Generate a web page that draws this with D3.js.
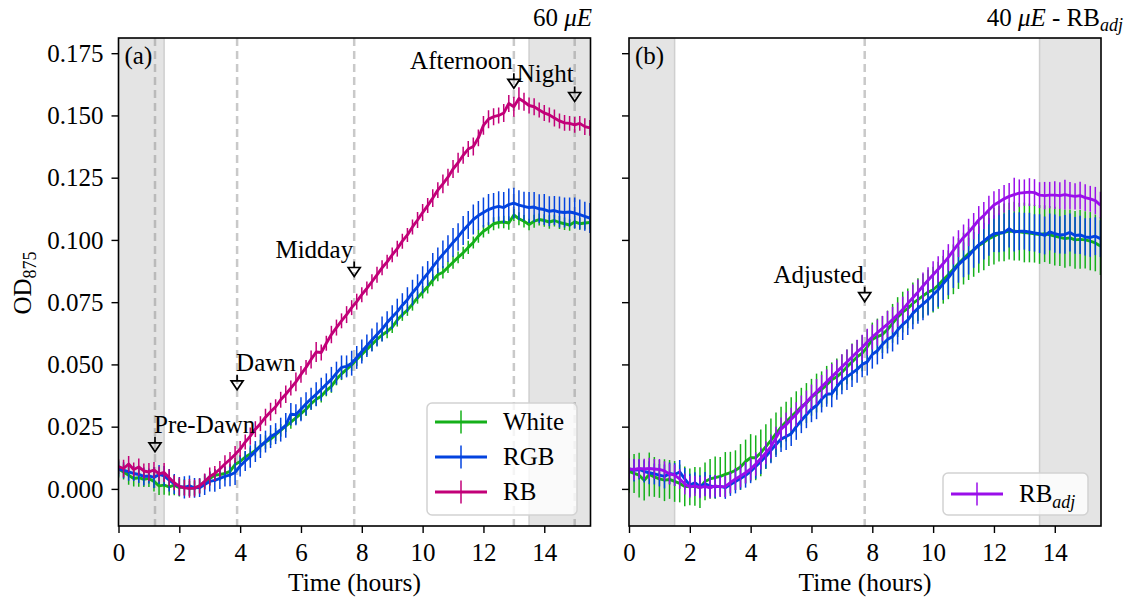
<!DOCTYPE html>
<html>
<head>
<meta charset="utf-8">
<script src="https://cdn.jsdelivr.net/npm/d3@7"></script>
<style>
  body { margin: 0; background: #fff; }
  svg text { font-family: "Liberation Serif", "Times New Roman", serif; fill: #000; }
</style>
</head>
<body>
<div id="chart"></div>
<script>
// sample times, minutes after lights on
const minutes = [0,10,20,30,40,50,60,70,80,90,100,110,120,130,140,150,160,170,180,190,
  200,210,220,230,240,250,260,270,280,290,300,310,320,330,340,350,360,370,380,390,
  400,410,420,430,440,450,460,470,480,490,500,510,520,530,540,550,560,570,580,590,
  600,610,620,630,640,650,660,670,680,690,700,710,720,730,740,750,760,770,780,790,
  800,810,820,830,840,850,860,870,880,890,900,910,920,930];

// panel (a), 60 uE
const whiteA = [0.0080,0.0068,0.0055,0.0042,0.0045,0.0038,0.0042,0.0030,0.0012,0.0015,
  0.0008,0.0015,0.0005,0.0008,0.0002,0.0003,0.0012,0.0028,0.0042,0.0055,
  0.0058,0.0062,0.0070,0.0098,0.0110,0.0128,0.0140,0.0155,0.0172,0.0188,
  0.0200,0.0218,0.0235,0.0252,0.0268,0.0285,0.0302,0.0320,0.0342,0.0360,
  0.0372,0.0395,0.0412,0.0440,0.0462,0.0480,0.0498,0.0520,0.0540,0.0560,
  0.0580,0.0600,0.0618,0.0632,0.0650,0.0678,0.0700,0.0718,0.0742,0.0768,
  0.0790,0.0812,0.0838,0.0860,0.0870,0.0890,0.0910,0.0930,0.0948,0.0970,
  0.0990,0.1015,0.1035,0.1048,0.1065,0.1070,0.1072,0.1068,0.1100,0.1085,
  0.1075,0.1062,0.1075,0.1082,0.1078,0.1072,0.1078,0.1070,0.1065,0.1060,
  0.1072,0.1065,0.1068,0.1070];
const whiteAErr = [0.0035,0.0030,0.0038,0.0032,0.0036,0.0030,0.0034,0.0040,0.0036,0.0038,
  0.0034,0.0040,0.0036,0.0032,0.0030,0.0028,0.0030,0.0026,0.0028,0.0025,
  0.0025,0.0027,0.0024,0.0026,0.0025,0.0023,0.0026,0.0024,0.0025,0.0027,
  0.0024,0.0026,0.0025,0.0023,0.0026,0.0024,0.0025,0.0027,0.0024,0.0026,
  0.0025,0.0023,0.0026,0.0024,0.0025,0.0027,0.0024,0.0026,0.0025,0.0023,
  0.0026,0.0024,0.0025,0.0027,0.0024,0.0026,0.0025,0.0023,0.0026,0.0024,
  0.0025,0.0027,0.0024,0.0026,0.0025,0.0023,0.0026,0.0024,0.0025,0.0027,
  0.0024,0.0026,0.0025,0.0023,0.0026,0.0024,0.0025,0.0027,0.0024,0.0026,
  0.0025,0.0023,0.0026,0.0024,0.0025,0.0027,0.0024,0.0026,0.0025,0.0023,
  0.0026,0.0024,0.0025,0.0027];
const rgbA = [0.0080,0.0075,0.0068,0.0062,0.0058,0.0050,0.0052,0.0046,0.0058,0.0052,
  0.0035,0.0020,0.0010,0.0006,0.0012,0.0004,0.0005,0.0018,0.0030,0.0034,
  0.0042,0.0050,0.0056,0.0066,0.0092,0.0112,0.0130,0.0150,0.0172,0.0190,
  0.0210,0.0222,0.0238,0.0255,0.0300,0.0298,0.0320,0.0342,0.0362,0.0380,
  0.0400,0.0420,0.0440,0.0465,0.0488,0.0492,0.0505,0.0528,0.0552,0.0575,
  0.0598,0.0620,0.0642,0.0668,0.0690,0.0712,0.0738,0.0760,0.0788,0.0812,
  0.0840,0.0865,0.0892,0.0918,0.0942,0.0965,0.0990,0.1012,0.1038,0.1060,
  0.1082,0.1098,0.1110,0.1122,0.1130,0.1135,0.1130,0.1142,0.1148,0.1140,
  0.1135,0.1130,0.1132,0.1125,0.1122,0.1115,0.1118,0.1112,0.1110,0.1112,
  0.1108,0.1102,0.1095,0.1088];
const rgbAErr = [0.0030,0.0032,0.0035,0.0030,0.0034,0.0036,0.0030,0.0042,0.0038,0.0040,
  0.0045,0.0040,0.0038,0.0045,0.0042,0.0040,0.0038,0.0042,0.0040,0.0045,
  0.0042,0.0040,0.0045,0.0050,0.0042,0.0040,0.0045,0.0042,0.0048,0.0044,
  0.0046,0.0042,0.0048,0.0050,0.0045,0.0042,0.0048,0.0046,0.0044,0.0048,
  0.0046,0.0044,0.0050,0.0046,0.0048,0.0044,0.0050,0.0046,0.0048,0.0045,
  0.0046,0.0048,0.0050,0.0046,0.0048,0.0052,0.0048,0.0050,0.0052,0.0050,
  0.0054,0.0050,0.0055,0.0052,0.0056,0.0054,0.0058,0.0055,0.0058,0.0056,
  0.0060,0.0058,0.0060,0.0062,0.0058,0.0060,0.0062,0.0065,0.0062,0.0060,
  0.0058,0.0062,0.0060,0.0058,0.0062,0.0060,0.0058,0.0062,0.0060,0.0058,
  0.0062,0.0060,0.0058,0.0060];
const rbA = [0.0090,0.0082,0.0100,0.0078,0.0088,0.0072,0.0068,0.0076,0.0060,0.0066,
  0.0045,0.0025,0.0010,0.0004,0.0002,0.0003,0.0012,0.0030,0.0050,0.0062,
  0.0080,0.0100,0.0118,0.0138,0.0160,0.0188,0.0212,0.0240,0.0262,0.0288,
  0.0310,0.0330,0.0358,0.0380,0.0405,0.0430,0.0460,0.0488,0.0520,0.0550,
  0.0548,0.0585,0.0620,0.0648,0.0675,0.0700,0.0728,0.0752,0.0780,0.0805,
  0.0832,0.0860,0.0888,0.0912,0.0940,0.0965,0.0995,0.1020,0.1052,0.1080,
  0.1110,0.1138,0.1168,0.1200,0.1225,0.1252,0.1285,0.1310,0.1340,0.1365,
  0.1375,0.1410,0.1460,0.1485,0.1495,0.1500,0.1510,0.1548,0.1535,0.1568,
  0.1555,0.1540,0.1535,0.1522,0.1510,0.1502,0.1490,0.1478,0.1470,0.1468,
  0.1462,0.1468,0.1455,0.1450];
const rbAErr = [0.0030,0.0035,0.0032,0.0028,0.0034,0.0030,0.0036,0.0032,0.0030,0.0038,
  0.0034,0.0030,0.0036,0.0032,0.0038,0.0034,0.0030,0.0032,0.0036,0.0030,
  0.0032,0.0035,0.0030,0.0034,0.0032,0.0030,0.0035,0.0032,0.0030,0.0034,
  0.0036,0.0030,0.0032,0.0035,0.0030,0.0038,0.0034,0.0030,0.0036,0.0040,
  0.0032,0.0030,0.0035,0.0032,0.0030,0.0034,0.0030,0.0032,0.0030,0.0028,
  0.0030,0.0032,0.0030,0.0028,0.0030,0.0032,0.0030,0.0028,0.0030,0.0032,
  0.0034,0.0030,0.0036,0.0032,0.0038,0.0034,0.0036,0.0040,0.0034,0.0032,
  0.0036,0.0034,0.0038,0.0036,0.0034,0.0032,0.0036,0.0034,0.0040,0.0045,
  0.0036,0.0032,0.0034,0.0030,0.0032,0.0030,0.0034,0.0030,0.0032,0.0030,
  0.0032,0.0030,0.0034,0.0032];

// panel (b), 40 uE
const whiteB = [0.0070,0.0062,0.0055,0.0035,0.0058,0.0048,0.0040,0.0035,0.0038,0.0030,
  0.0022,0.0010,0.0008,0.0010,0.0005,0.0030,0.0040,0.0045,0.0050,0.0058,
  0.0065,0.0075,0.0088,0.0110,0.0125,0.0125,0.0145,0.0170,0.0195,0.0222,
  0.0248,0.0270,0.0290,0.0310,0.0330,0.0345,0.0368,0.0385,0.0400,0.0418,
  0.0438,0.0450,0.0468,0.0490,0.0510,0.0530,0.0545,0.0570,0.0600,0.0612,
  0.0620,0.0640,0.0665,0.0690,0.0710,0.0725,0.0745,0.0760,0.0775,0.0790,
  0.0800,0.0818,0.0840,0.0860,0.0882,0.0905,0.0925,0.0945,0.0960,0.0978,
  0.0990,0.1005,0.1015,0.1025,0.1030,0.1035,0.1035,0.1033,0.1030,0.1028,
  0.1025,0.1022,0.1025,0.1020,0.1015,0.1010,0.1005,0.1008,0.1000,0.1002,
  0.1000,0.0995,0.0988,0.0975];
const whiteBErr = [0.0085,0.0078,0.0090,0.0082,0.0088,0.0080,0.0076,0.0084,0.0078,0.0082,
  0.0076,0.0080,0.0074,0.0078,0.0082,0.0076,0.0080,0.0085,0.0078,0.0090,
  0.0084,0.0080,0.0092,0.0088,0.0095,0.0090,0.0094,0.0090,0.0088,0.0085,
  0.0082,0.0080,0.0078,0.0082,0.0076,0.0080,0.0074,0.0078,0.0072,0.0076,
  0.0070,0.0074,0.0072,0.0070,0.0074,0.0068,0.0072,0.0070,0.0068,0.0072,
  0.0074,0.0076,0.0078,0.0080,0.0082,0.0080,0.0084,0.0086,0.0088,0.0090,
  0.0092,0.0094,0.0096,0.0098,0.0100,0.0102,0.0104,0.0106,0.0108,0.0110,
  0.0112,0.0110,0.0114,0.0112,0.0116,0.0114,0.0118,0.0116,0.0120,0.0118,
  0.0116,0.0118,0.0114,0.0116,0.0118,0.0115,0.0117,0.0114,0.0116,0.0118,
  0.0115,0.0117,0.0114,0.0116];
const rgbB = [0.0080,0.0075,0.0078,0.0070,0.0065,0.0060,0.0055,0.0050,0.0062,0.0058,
  0.0068,0.0040,0.0015,0.0025,0.0010,0.0020,0.0012,0.0008,0.0010,0.0005,
  0.0018,0.0030,0.0042,0.0055,0.0070,0.0090,0.0110,0.0130,0.0155,0.0178,
  0.0200,0.0210,0.0222,0.0250,0.0275,0.0298,0.0320,0.0335,0.0360,0.0380,
  0.0382,0.0410,0.0435,0.0450,0.0465,0.0480,0.0500,0.0510,0.0540,0.0555,
  0.0580,0.0600,0.0612,0.0638,0.0660,0.0678,0.0705,0.0725,0.0742,0.0760,
  0.0780,0.0800,0.0825,0.0848,0.0875,0.0900,0.0920,0.0935,0.0960,0.0980,
  0.0995,0.1012,0.1025,0.1028,0.1030,0.1045,0.1032,0.1035,0.1035,0.1032,
  0.1028,0.1025,0.1018,0.1032,0.1025,0.1020,0.1022,0.1030,0.1018,0.1020,
  0.1012,0.1010,0.1015,0.1005];
const rgbBErr = [0.0042,0.0045,0.0040,0.0044,0.0046,0.0042,0.0045,0.0048,0.0044,0.0046,
  0.0048,0.0044,0.0046,0.0042,0.0045,0.0048,0.0044,0.0046,0.0042,0.0045,
  0.0046,0.0048,0.0045,0.0050,0.0047,0.0049,0.0050,0.0048,0.0052,0.0050,
  0.0052,0.0054,0.0050,0.0053,0.0051,0.0054,0.0052,0.0055,0.0053,0.0050,
  0.0054,0.0052,0.0055,0.0053,0.0056,0.0054,0.0052,0.0055,0.0057,0.0055,
  0.0058,0.0056,0.0060,0.0058,0.0062,0.0060,0.0064,0.0062,0.0065,0.0064,
  0.0066,0.0068,0.0066,0.0070,0.0068,0.0072,0.0070,0.0074,0.0072,0.0075,
  0.0074,0.0076,0.0074,0.0078,0.0076,0.0075,0.0078,0.0076,0.0074,0.0077,
  0.0075,0.0078,0.0076,0.0074,0.0077,0.0075,0.0078,0.0076,0.0074,0.0077,
  0.0075,0.0078,0.0076,0.0074];
const rbAdjB = [0.0080,0.0078,0.0082,0.0080,0.0082,0.0080,0.0078,0.0072,0.0060,0.0055,
  0.0040,0.0020,0.0008,0.0012,0.0005,0.0010,0.0004,0.0012,0.0008,0.0010,
  0.0025,0.0040,0.0052,0.0065,0.0080,0.0100,0.0122,0.0145,0.0170,0.0205,
  0.0240,0.0258,0.0280,0.0300,0.0325,0.0348,0.0370,0.0390,0.0410,0.0430,
  0.0450,0.0470,0.0490,0.0510,0.0530,0.0550,0.0568,0.0590,0.0610,0.0628,
  0.0645,0.0662,0.0680,0.0700,0.0720,0.0745,0.0768,0.0790,0.0815,0.0838,
  0.0860,0.0882,0.0905,0.0930,0.0958,0.0985,0.1010,0.1030,0.1055,0.1080,
  0.1098,0.1120,0.1140,0.1152,0.1165,0.1175,0.1182,0.1188,0.1190,0.1192,
  0.1190,0.1180,0.1178,0.1180,0.1180,0.1178,0.1182,0.1178,0.1175,0.1178,
  0.1170,0.1165,0.1158,0.1140];
const rbAdjBErr = [0.0040,0.0042,0.0038,0.0041,0.0043,0.0040,0.0042,0.0039,0.0041,0.0043,
  0.0040,0.0042,0.0044,0.0041,0.0043,0.0040,0.0042,0.0044,0.0041,0.0043,
  0.0042,0.0044,0.0046,0.0043,0.0045,0.0047,0.0044,0.0046,0.0048,0.0045,
  0.0047,0.0049,0.0046,0.0048,0.0050,0.0047,0.0049,0.0051,0.0048,0.0050,
  0.0052,0.0049,0.0051,0.0050,0.0052,0.0049,0.0051,0.0053,0.0050,0.0052,
  0.0050,0.0053,0.0051,0.0049,0.0052,0.0050,0.0053,0.0051,0.0054,0.0052,
  0.0054,0.0052,0.0055,0.0053,0.0056,0.0054,0.0052,0.0055,0.0053,0.0056,
  0.0054,0.0057,0.0055,0.0053,0.0056,0.0054,0.0068,0.0055,0.0053,0.0056,
  0.0054,0.0052,0.0055,0.0053,0.0056,0.0054,0.0060,0.0055,0.0053,0.0056,
  0.0054,0.0052,0.0055,0.0053];

// annotations (time in hours, tip at OD value)
const notesA = ["Pre-Dawn", "Dawn", "Midday", "Afternoon", "Night"];
const notesATime = [1.2, 3.9, 7.75, 13.0, 15.0];
const notesATip = [0.0149, 0.0398, 0.0853, 0.1609, 0.1556];
const notesB = ["Adjusted"];
const notesBTime = [7.75];
const notesBTip = [0.0752];

// dark periods
const darkSpans = [[0, 1.5], [13.5, 16]];

const xTicks = [0, 2, 4, 6, 8, 10, 12, 14];
const yTicks = [0, 0.025, 0.05, 0.075, 0.1, 0.125, 0.15, 0.175];

const hours = minutes.map(m => m / 60);

const width = 1136, height = 601;
const plot_top = 38, plot_bottom = 526;
const panel_w = 472;
const font_size = 25;

const y = d3.scaleLinear().domain([-0.0149, 0.1811]).range([plot_bottom, plot_top]);

const svg = d3.select("#chart").append("svg")
  .attr("width", width).attr("height", height)
  .attr("viewBox", [0, 0, width, height]);

function drawPanel(p) {
  let {id, left, series, notes, noteTimes, noteTips, noteAnchors, dashes, tag, showYLabels, legend} = p;

  let x = d3.scaleLinear().domain([0, 15.52]).range([left, left + panel_w]);

  svg.append("clipPath").attr("id", `clip-${id}`)
    .append("rect").attr("x", left).attr("y", plot_top)
    .attr("width", panel_w).attr("height", plot_bottom - plot_top);

  let g = svg.append("g").attr("clip-path", `url(#clip-${id})`);

  // night shading
  g.selectAll(null).data(darkSpans).join("rect")
    .attr("x", d => x(d[0])).attr("y", plot_top)
    .attr("width", d => x(d[1]) - x(d[0])).attr("height", plot_bottom - plot_top)
    .attr("fill", "#e4e4e4")
    .attr("stroke", "#cfcfcf").attr("stroke-width", 1.5);

  // sampling times
  g.selectAll(null).data(dashes).join("line")
    .attr("x1", d => x(d)).attr("x2", d => x(d))
    .attr("y1", plot_top).attr("y2", plot_bottom)
    .attr("stroke", "#888").attr("stroke-opacity", 0.45)
    .attr("stroke-width", 2.5).attr("stroke-dasharray", "8,5");

  let line = d3.line().x(d => x(d.t)).y(d => y(d.v));

  series.forEach(s => {
    let pts = hours.map((t, i) => ({t, v: s.values[i], e: s.errors[i]}));
    g.append("g").selectAll("line").data(pts).join("line")
      .attr("x1", d => x(d.t)).attr("x2", d => x(d.t))
      .attr("y1", d => y(d.v - d.e)).attr("y2", d => y(d.v + d.e))
      .attr("stroke", s.color).attr("stroke-width", 1.5);
    g.append("path").datum(pts)
      .attr("d", line)
      .attr("fill", "none").attr("stroke", s.color)
      .attr("stroke-width", 2.9).attr("stroke-linejoin", "round");
  });

  // frame
  svg.append("rect")
    .attr("x", left).attr("y", plot_top).attr("width", panel_w).attr("height", plot_bottom - plot_top)
    .attr("fill", "none").attr("stroke", "#000").attr("stroke-width", 1.6);

  // axes
  let xAxis = svg.append("g").attr("transform", `translate(0,${plot_bottom})`)
    .call(d3.axisBottom(x).tickValues(xTicks).tickSize(7).tickFormat(d3.format("d")));
  xAxis.select(".domain").remove();
  xAxis.selectAll(".tick line").attr("stroke", "#000").attr("stroke-width", 1.4);
  xAxis.selectAll(".tick text").attr("y", 35).attr("dy", null)
    .attr("font-size", font_size).attr("font-family", "Liberation Serif");

  let yAxis = svg.append("g").attr("transform", `translate(${left},0)`)
    .call(d3.axisLeft(y).tickValues(yTicks).tickSize(7).tickFormat(showYLabels ? d3.format(".3f") : ""));
  yAxis.select(".domain").remove();
  yAxis.selectAll(".tick line").attr("stroke", "#000").attr("stroke-width", 1.4);
  yAxis.selectAll(".tick text").attr("x", -15).attr("dy", "0.33em")
    .attr("font-size", font_size).attr("font-family", "Liberation Serif");

  svg.append("text")
    .attr("x", left + panel_w / 2).attr("y", 591)
    .attr("text-anchor", "middle").attr("font-size", 25.5)
    .text("Time (hours)");

  // panel tag
  svg.append("text").attr("x", left + 6).attr("y", 64)
    .attr("font-size", font_size).text(tag);

  // annotation arrows
  notes.forEach((name, i) => {
    let ax = x(noteTimes[i]), ay = y(noteTips[i]);
    svg.append("path")
      .attr("d", `M${ax},${ay - 15}V${ay - 9}M${ax - 6},${ay - 9}H${ax + 6}L${ax},${ay}Z`)
      .attr("fill", "none").attr("stroke", "#000").attr("stroke-width", 1.7)
      .attr("stroke-linejoin", "miter");
    let anchor = noteAnchors[i];
    svg.append("text")
      .attr("x", anchor === "start" ? ax - 1 : ax - 1).attr("y", ay - 19)
      .attr("text-anchor", anchor).attr("font-size", font_size)
      .text(name);
  });

  // legend
  let shown = series.filter(s => !s.hidden);
  let lg = svg.append("g").attr("transform", `translate(${legend.x},${legend.y})`);
  lg.append("rect")
    .attr("width", legend.w).attr("height", legend.h).attr("rx", 5)
    .attr("fill", "#fff").attr("fill-opacity", 0.8)
    .attr("stroke", "#d2d2d2").attr("stroke-width", 1.5);
  shown.forEach((s, i) => {
    let cy = 19 + i * 35;
    if (shown.length === 1) cy = legend.h / 2;
    lg.append("line").attr("x1", 8).attr("x2", 60).attr("y1", cy).attr("y2", cy)
      .attr("stroke", s.color).attr("stroke-width", 2.9);
    lg.append("line").attr("x1", 34).attr("x2", 34).attr("y1", cy - 11.5).attr("y2", cy + 11.5)
      .attr("stroke", s.color).attr("stroke-width", 1.5);
    let t = lg.append("text").attr("x", 76).attr("y", cy).attr("dy", "0.33em")
      .attr("font-size", font_size);
    t.append("tspan").text(s.name);
    if (s.sub) {
      t.append("tspan").attr("font-size", 18).attr("font-style", "italic")
        .attr("dy", "0.3em").text(s.sub);
    }
  });
}

drawPanel({
  id: "a", left: 118.5, tag: "(a)", showYLabels: true,
  series: [
    {name: "White", color: "#15b01a", values: whiteA, errors: whiteAErr},
    {name: "RGB", color: "#0343df", values: rgbA, errors: rgbAErr},
    {name: "RB", color: "#c20078", values: rbA, errors: rbAErr}
  ],
  notes: notesA, noteTimes: notesATime, noteTips: notesATip,
  noteAnchors: ["start", "start", "end", "end", "end"],
  dashes: notesATime,
  legend: {x: 427, y: 403, w: 150, h: 112}
});

drawPanel({
  id: "b", left: 629, tag: "(b)", showYLabels: false,
  series: [
    {name: "White", color: "#15b01a", values: whiteB, errors: whiteBErr, hidden: true},
    {name: "RGB", color: "#0343df", values: rgbB, errors: rgbBErr, hidden: true},
    {name: "RB", sub: "adj", color: "#9a0eea", values: rbAdjB, errors: rbAdjBErr}
  ],
  notes: notesB, noteTimes: notesBTime, noteTips: notesBTip,
  noteAnchors: ["end"],
  dashes: notesBTime,
  legend: {x: 943, y: 473, w: 145, h: 42}
});

// y label
let yl = svg.append("text")
  .attr("transform", "translate(31,283) rotate(-90)")
  .attr("text-anchor", "middle").attr("font-size", font_size);
yl.append("tspan").text("OD");
yl.append("tspan").attr("font-size", 18).attr("dy", "0.3em").text("875");

// titles
let t1 = svg.append("text").attr("x", 592).attr("y", 26)
  .attr("text-anchor", "end").attr("font-size", font_size);
t1.append("tspan").text("60 ");
t1.append("tspan").attr("font-style", "italic").text("μE");

let t2 = svg.append("text").attr("x", 1123).attr("y", 26)
  .attr("text-anchor", "end").attr("font-size", font_size);
t2.append("tspan").text("40 ");
t2.append("tspan").attr("font-style", "italic").text("μE");
t2.append("tspan").text(" - RB");
t2.append("tspan").attr("font-size", 18).attr("font-style", "italic").attr("dy", "0.3em").text("adj");
</script>
</body>
</html>
